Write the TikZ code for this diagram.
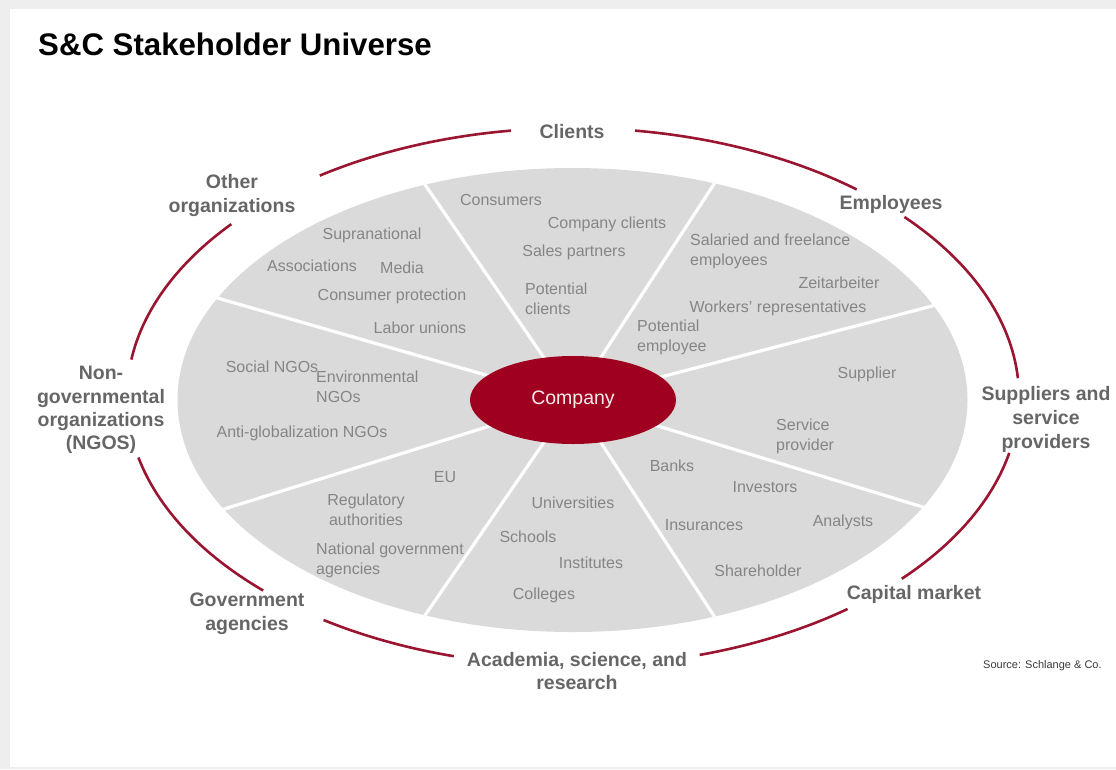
\documentclass[tikz,border=0pt]{standalone}
\usepackage{fontspec}
\setmainfont{Liberation Sans}
\usetikzlibrary{shapes.geometric}
\definecolor{framegray}{HTML}{EEEEEE}
\definecolor{sectorgray}{HTML}{DADADA}
\definecolor{itemgray}{HTML}{858585}
\definecolor{catgray}{HTML}{666666}
\definecolor{ringred}{HTML}{9A1530}
\definecolor{compred}{HTML}{A0001F}
\definecolor{comptext}{HTML}{F6ECEC}
\definecolor{srcgray}{HTML}{3A3A3A}
\begin{document}
\begin{tikzpicture}[x=1pt,y=-1pt,
  cat/.style={font=\bfseries\fontsize{19.5}{24}\selectfont, text=catgray, align=center, inner sep=0pt},
  item/.style={font=\fontsize{16}{20}\selectfont, text=itemgray, inner sep=0pt},
  itemL/.style={item, align=left, anchor=west},
  itemC/.style={item, align=center},
  ring/.style={draw=ringred, line width=2.6pt},
  spoke/.style={draw=white, line width=3.2pt},
  company/.style={ellipse, fill=compred, text=comptext, minimum width=206pt, minimum height=88pt, inner sep=0pt, font=\fontsize{19.5}{24}\selectfont}]
\useasboundingbox (0,0) rectangle (1116,769);
\fill[framegray] (0,0) rectangle (1116,769);
\fill[white] (10,9) rectangle (1116,767);

% title
\node[anchor=base west, font=\bfseries\fontsize{31.2}{36}\selectfont, inner sep=0pt] (title) at (38,55) {S\&C Stakeholder Universe};

% gray disc and spokes
\coordinate (c0) at (573,400);
\coordinate (cr) at (573,397);
\fill[sectorgray] (572.5,400) ellipse [x radius=395pt, y radius=232pt];
\foreach \t in {24,69,112,154,208,248,291,332.5}
  \draw[spoke] (c0) -- ++(\t:410pt and 241pt);

% company
\node[company] (company) at (c0) {Company};

% outer ring arcs
\foreach \a/\b in {98/124.6, 50.5/82, 4/42, -42.5/-12, -73.5/-52, 236/254.5, 193/226, 140/172}
  \draw[ring] (cr) ++(\a:446pt and 269pt) arc[start angle=\a, end angle=\b, x radius=446pt, y radius=269pt];

% category labels
\node[cat] (clients) at (572,132) {Clients};
\node[cat] (otherorg) at (232,195) {Other\\organizations};
\node[cat] (employees) at (891,204) {Employees};
\node[cat, font=\bfseries\fontsize{19.5}{23.2}\selectfont] (ngo) at (101,410) {Non-\\governmental\\organizations\\(NGOS)};
\node[cat] (suppliers) at (1046,419) {Suppliers and\\service\\providers};
\node[cat] (government) at (247,613.5) {Government\\agencies};
\node[cat] (capital) at (914,594) {Capital market};
\node[cat, font=\bfseries\fontsize{19.5}{23}\selectfont] (academia) at (577,671.5) {Academia, science, and\\research};

% other organizations sector
\node[item] (supranational) at (372,235) {Supranational};
\node[item] (associations) at (312,266) {Associations};
\node[item] (media) at (402,268) {Media};
\node[item] (consprot) at (392,296) {Consumer protection};
\node[item] (labor) at (420,328) {Labor unions};

% clients sector
\node[item] (consumers) at (501,200) {Consumers};
\node[item] (compclients) at (607,224) {Company clients};
\node[item] (sales) at (574,252) {Sales partners};
\node[itemL] (potclients) at (525,299) {Potential\\clients};

% employees sector
\node[itemL] (salaried) at (690,251) {Salaried and freelance\\employees};
\node[item] (zeit) at (839,283) {Zeitarbeiter};
\node[item] (workers) at (778,308) {Workers' representatives};
\node[itemL] (potemp) at (637,337) {Potential\\employee};

% suppliers sector
\node[item] (supplier) at (867,374) {Supplier};
\node[itemL] (service) at (776,436) {Service\\provider};

% capital market sector
\node[item] (banks) at (672,466) {Banks};
\node[item] (investors) at (765,487) {Investors};
\node[item] (insurances) at (704,525) {Insurances};
\node[item] (analysts) at (843,522) {Analysts};
\node[item] (shareholder) at (758,571) {Shareholder};

% academia sector
\node[item] (universities) at (573,503) {Universities};
\node[item] (schools) at (528,537) {Schools};
\node[item] (institutes) at (591,563) {Institutes};
\node[item] (colleges) at (544,595) {Colleges};

% government sector
\node[item] (eu) at (445,477) {EU};
\node[itemC] (regulatory) at (366,510) {Regulatory\\authorities};
\node[itemL] (national) at (316,560) {National government\\agencies};

% NGO sector
\node[item] (socialngos) at (272,367) {Social NGOs};
\node[itemL] (environmental) at (316,387) {Environmental\\NGOs};
\node[item] (antiglob) at (302,433) {Anti-globalization NGOs};

% source
\node[anchor=base west, font=\fontsize{11}{13}\selectfont, text=srcgray, inner sep=0pt] (source) at (983,668) {Source: Schlange \& Co.};
\end{tikzpicture}
\end{document}
